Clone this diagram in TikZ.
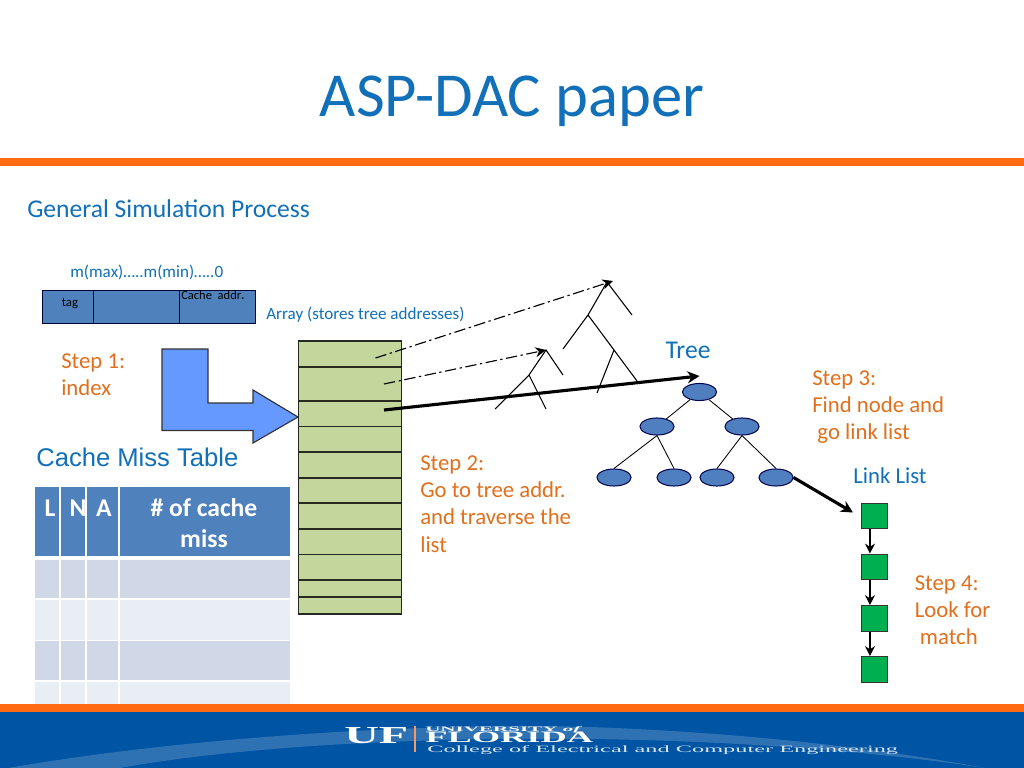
\documentclass[tikz,border=0pt]{standalone}
\usepackage{graphicx}
\usepackage{fontspec}
\setmainfont{Carlito}
\newfontfamily\arialfont{Liberation Sans}
\newfontfamily\logofont{Liberation Serif}
\usetikzlibrary{positioning,arrows.meta,calc,shapes.geometric}
\definecolor{ufblue}{HTML}{0054A4}
\definecolor{ufswoosh}{HTML}{2F72B4}
\definecolor{uforange}{HTML}{FF6A13}
\definecolor{txtblue}{HTML}{1170B8}
\definecolor{txtorange}{HTML}{E0701E}
\definecolor{hdblue}{HTML}{4F81BD}
\definecolor{rowdark}{HTML}{D0D8E8}
\definecolor{rowlight}{HTML}{E9EDF4}
\definecolor{cellgreen}{HTML}{C3D69B}
\definecolor{boxgreen}{HTML}{00B050}
\definecolor{nodeblue}{HTML}{4F7FBF}
\definecolor{arrowblue}{HTML}{6699FF}

\begin{document}
\begin{tikzpicture}[
    x=0.703125pt, y=-0.703125pt,
    bluetxt/.style={text=txtblue, inner sep=0pt},
    steptxt/.style={text=txtorange, font=\fontsize{16}{19.3}\selectfont, align=left, anchor=north west, inner sep=0pt},
    regbox/.style={draw=black!80!blue, fill=hdblue, line width=0.7pt, minimum height=23.9pt, inner sep=0pt, outer sep=0pt},
    cell/.style={draw=black!80!cellgreen, fill=cellgreen, line width=0.8pt, minimum width=72pt, inner sep=0pt, outer sep=0pt},
    treenode/.style={ellipse, draw=black!70!blue, fill=nodeblue, line width=0.7pt, minimum width=24pt, minimum height=12pt, inner sep=0pt},
    listbox/.style={rectangle, draw=black!80, fill=boxgreen, line width=0.7pt, minimum size=18.2pt, inner sep=0pt},
    ddarrow/.style={-{Stealth[length=7.5pt,width=7pt]}, line width=0.8pt, dash pattern=on 8pt off 2.5pt on 1.6pt off 2.5pt},
    fatarrow/.style={-{Stealth[length=8.5pt,width=8.5pt]}, line width=2.2pt},
    listarrow/.style={-{Stealth[length=7pt,width=7pt]}, line width=0.8pt},
    twig/.style={line width=0.75pt},
    edge/.style={line width=0.6pt},
]
\useasboundingbox (0,0) rectangle (1024,768);
% --- slide frame ---
\fill[white] (0,0) rectangle (1024,768);
\fill[uforange] (0,158) rectangle (1024,166);
\fill[ufblue] (0,712) rectangle (1024,768);
\fill[uforange] (0,704) rectangle (1024,712);
\fill[ufswoosh] (8,768) .. controls (180,738) and (420,722) .. (590,727)
   .. controls (760,733) and (900,752) .. (985,768)
   .. controls (880,752) and (740,741) .. (590,739)
   .. controls (400,737) and (230,748) .. (120,768) -- cycle;
\node[text=txtblue, font=\fontsize{44}{50}\selectfont, inner sep=0pt] (title) at (512,101) {ASP-DAC paper};
\node[bluetxt, font=\fontsize{18}{21}\selectfont, anchor=west] (process) at (27,209) {General Simulation Process};
% --- footer logo ---
\node[text=white, inner sep=0pt, anchor=base west] (uf) at (344,743) {\resizebox{45pt}{11.2pt}{\logofont\bfseries UF}};
\draw[uforange!70!white, line width=0.8pt] (415,726) -- (415,752);
\node[text=white, inner sep=0pt, anchor=base west] (univ) at (425,731) {\resizebox{109pt}{3.4pt}{\logofont\bfseries UNIVERSITY \itshape of}};
\node[text=white, inner sep=0pt, anchor=base west] (florida) at (425,742.5) {\resizebox{118pt}{7.4pt}{\logofont\bfseries FLORIDA}};
\node[text=white!85!ufblue, inner sep=0pt, anchor=base west] (college) at (427,752) {\resizebox{331pt}{4.8pt}{\logofont College of Electrical and Computer Engineering}};
% --- address register ---
\node[bluetxt, font=\fontsize{12}{14}\selectfont, anchor=west] (bits) at (70,272) {m(max)…..m(min)…..0};
\node[regbox, minimum width=36.2pt] (tag) at (68.25,307) {};
\node[regbox, minimum width=59.8pt, right=0pt of tag] (mid) {};
\node[regbox, minimum width=54.1pt, right=0pt of mid] (addr) {};
\node[font=\fontsize{9}{10}\selectfont, inner sep=0pt] (tagtxt) at (70,304) {tag};
\node[font=\fontsize{8.8}{10}\selectfont, inner sep=0pt, anchor=north west] (addrtxt) at (181,291) {Cache\ \ addr\textbf{.}};
\node[bluetxt, font=\fontsize{12}{14}\selectfont, anchor=west] (arraytxt) at (266,314.5) {Array (stores tree addresses)};
% --- step 1 and index arrow ---
\node[steptxt] (step1) at (61,353) {Step 1:\\index};
\draw[draw=black!80, fill=arrowblue, line width=0.8pt] (162,349) -- (208,349) -- (208,403) -- (253,403)
  -- (253,390) -- (298,417) -- (253,443) -- (253,430.5) -- (162,430.5) -- cycle;
% --- array of tree addresses ---
\foreach \i/\ya/\yb in {1/341/367, 2/367/401, 3/401/426.5, 4/426.5/452, 5/452/478, 6/478/503,
                        7/503/529, 8/529/554.5, 9/554.5/580, 10/580/597, 11/597/614}{
  \pgfmathsetmacro{\hh}{(\yb-\ya)*0.703125}
  \node[cell, minimum height=\hh pt] (c\i) at (350,{(\ya+\yb)/2}) {};
}
\coordinate (a1) at (375.5,358);
\coordinate (a2) at (384,384);
\coordinate (a3) at (384,410);
% --- cache miss table ---
\node[text=txtblue, font=\arialfont\fontsize{18}{21}\selectfont, inner sep=0pt, anchor=west] (misstxt) at (36,457) {Cache Miss Table};
\foreach \xa/\xb/\nm in {35/59/a, 61/85/b, 87/118/c, 120/289.5/d}{
  \fill[hdblue] (\xa,487) rectangle (\xb,556);
  \foreach \ya/\yb/\cc in {560/598/rowdark, 600/639.5/rowlight, 641/680/rowdark, 681.5/704/rowlight}{
    \fill[\cc] (\xa,\ya) rectangle (\xb,\yb);
  }
}
\foreach \tx/\txt in {50/L, 78/N, 104/A}{
  \node[text=white, font=\bfseries\fontsize{18}{22}\selectfont, inner sep=0pt] (hd\txt) at (\tx,508) {\txt};
}
\node[text=white, font=\bfseries\fontsize{18}{22}\selectfont, align=center, inner sep=0pt] (hdmiss) at (204,523) {\# of cache\\miss};
% --- bare trees ---
\coordinate (bt) at (613,281);  \coordinate (bta) at (607,282); \coordinate (btr) at (632,315);
\coordinate (btl) at (588,315); \coordinate (btll) at (563,349);
\coordinate (btlr) at (637,381);
\coordinate (btm) at (614,350); \coordinate (btml) at (597,393);
\coordinate (st) at (546,350);  \coordinate (str) at (563,375);
\coordinate (stl) at (529,375); \coordinate (stll) at (495,409);
\coordinate (stlr) at (546,409);
\draw[twig] (btr) -- (bta) -- (btl) -- (btll) (btl) -- (btlr) (btm) -- (btml);
\draw[twig] (str) -- (st) -- (stl) -- (stll) (stl) -- (stlr);
% --- tree with nodes ---
\node[treenode] (root) at (699.5,392) {};
\node[treenode] (n1) at (657,426.5) {};
\node[treenode] (n2) at (742,426.5) {};
\foreach \nm/\tx in {l1/614, l2/674, l3/717, l4/776}{
  \node[treenode] (\nm) at (\tx,477.5) {};
}
\draw[edge] (root) -- (n1);
\draw[edge] (root) -- (n2);
\draw[edge] (n1.south) -- (l1.north);
\draw[edge] (n1.south) -- (l2.north);
\draw[edge] (n2.south) -- (l3.north);
\draw[edge] (n2.south) -- (l4.north);
\coordinate (rootin) at (699.5,376);
% --- jumps from the array ---
\draw[ddarrow] (a1) -- (bt);
\draw[ddarrow] (a2) -- (st);
\draw[fatarrow] (a3) -- (rootin);
% --- link list ---
\node[listbox] (b1) at (874.5,516) {};
\node[listbox] (b2) at (874.5,567) {};
\node[listbox] (b3) at (874.5,618.5) {};
\node[listbox] (b4) at (874.5,669.5) {};
\foreach \p/\q in {b1/b2, b2/b3, b3/b4}{
  \draw[listarrow] ([xshift=-3.2pt]\p.south) -- ([xshift=-3.2pt]\q.north);
}
\coordinate (listin) at (853,512.5);
\draw[fatarrow] (l4.east) -- (listin);
% --- remaining labels ---
\node[bluetxt, font=\fontsize{18}{21}\selectfont] (treetxt) at (688,350) {Tree};
\node[bluetxt, font=\fontsize{16}{19}\selectfont] (listtxt) at (890,476) {Link List};
\node[steptxt] (step2) at (420,455) {Step 2:\\Go to tree addr.\\and traverse the\\list};
\node[steptxt] (step3) at (812,370) {Step 3:\\Find node and\\\ go link list};
\node[steptxt] (step4) at (914.5,575) {Step 4:\\Look for\\\ match};
\end{tikzpicture}
\end{document}
